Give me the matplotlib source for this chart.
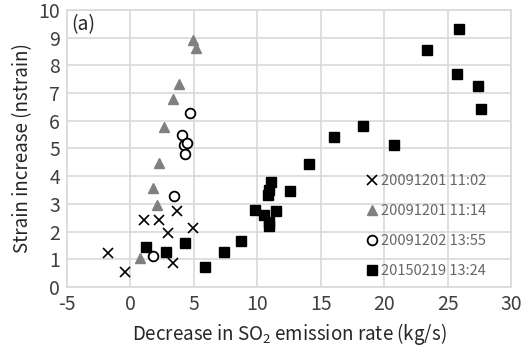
import matplotlib.pyplot as plt

plt.rcParams['font.family'] = ['Noto Sans CJK JP', 'DejaVu Sans']
plt.rcParams['mathtext.default'] = 'regular'
plt.rcParams['axes.unicode_minus'] = False

# 20091201 11:02
cross_x = [-1.76, -0.39, 1.05, 2.26, 3.68, 2.94, 4.94, 3.34]
cross_y = [1.22, 0.55, 2.42, 2.42, 2.74, 1.94, 2.12, 0.85]

# 20091201 11:14
tri_x = [4.91, 5.2, 3.86, 3.34, 2.68, 2.26, 1.79, 2.13, 0.79]
tri_y = [8.92, 8.62, 7.33, 6.79, 5.79, 4.47, 3.59, 2.96, 1.04]

# 20091202 13:55
circ_x = [4.73, 4.07, 4.2, 4.45, 4.3, 3.41, 1.79]
circ_y = [6.27, 5.49, 5.13, 5.19, 4.8, 3.27, 1.12]

# 20150219 13:24
sq_x = [1.2, 2.8, 4.3, 5.9, 7.4, 8.7, 9.8, 10.5, 11.5, 10.9, 10.95, 10.85,
        10.9, 11.05, 12.55, 14.1, 16.05, 18.3, 20.8, 23.4, 25.9, 25.7, 27.4, 27.6]
sq_y = [1.45, 1.25, 1.6, 0.71, 1.25, 1.67, 2.78, 2.6, 2.74, 2.2, 2.36, 3.32,
        3.5, 3.8, 3.48, 4.44, 5.4, 5.8, 5.13, 8.55, 9.3, 7.68, 7.25, 6.42]

fig = plt.figure(figsize=(5.21, 3.55), dpi=100)
ax = fig.add_axes([0.1286, 0.1915, 0.8524, 0.7805])

ax.plot(cross_x, cross_y, 'x', color='black', markersize=7, mew=1.2,
        label='20091201 11:02')
ax.plot(tri_x, tri_y, '^', color='#808080', markersize=7.5, mec='#808080',
        label='20091201 11:14')
ax.plot(circ_x, circ_y, 'o', mfc='white', mec='black', markersize=7, mew=1.3,
        label='20091202 13:55')
ax.plot(sq_x, sq_y, 's', color='black', markersize=7.5,
        label='20150219 13:24')

ax.set_xlim(-5, 30)
ax.set_ylim(0, 10)
ax.set_xticks(range(-5, 31, 5))
ax.set_yticks(range(0, 11))
ax.grid(True, color='#d9d9d9', linewidth=1.2)
ax.set_axisbelow(True)
for s in ax.spines.values():
    s.set_color('#d9d9d9')
    s.set_linewidth(1.2)
ax.tick_params(length=0, labelsize=14, colors='#404040', pad=5)

ax.set_xlabel('Decrease in SO$_2$ emission rate (kg/s)', fontsize=13.5, color='#262626')
ax.set_ylabel('Strain increase (nstrain)', fontsize=13.5, color='#262626')
ax.text(0.01, 0.985, '(a)', transform=ax.transAxes, fontsize=14,
        va='top', ha='left', color='#262626')

ax.legend(loc='upper left', bbox_to_anchor=(0.66, 0.43), frameon=False,
          fontsize=10.5, handlelength=0.8, handletextpad=0.2,
          labelspacing=1.1, labelcolor='#666666', borderaxespad=0)

fig.savefig('out.png', dpi=100)
